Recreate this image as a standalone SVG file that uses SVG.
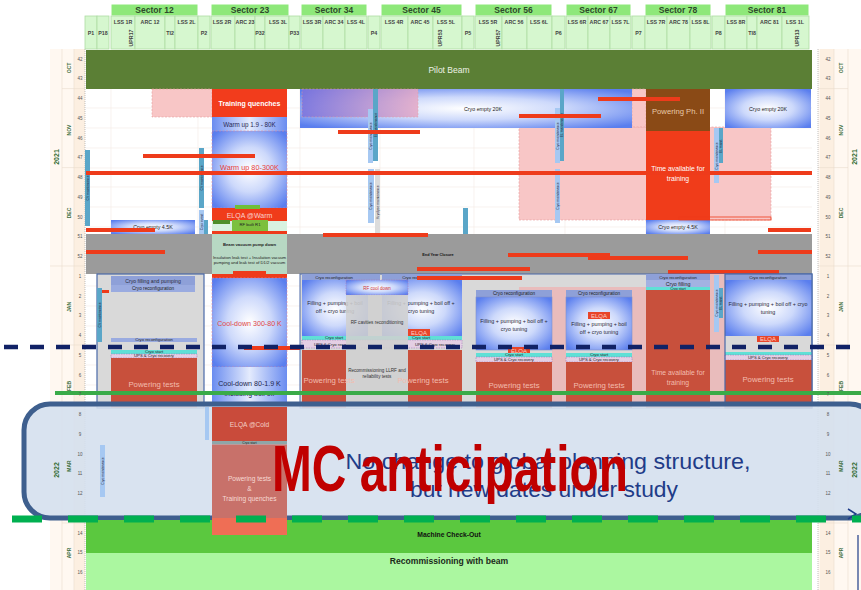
<svg xmlns="http://www.w3.org/2000/svg" width="861" height="590" viewBox="0 0 861 590">
<defs>
<radialGradient id="rb" cx="50%" cy="50%" r="65%">
<stop offset="0" stop-color="#ffffff"/><stop offset="0.45" stop-color="#cdd9fb"/><stop offset="1" stop-color="#5a7eee"/>
</radialGradient>
<linearGradient id="lb" x1="0" y1="0" x2="1" y2="0">
<stop offset="0" stop-color="#6a8cf0"/><stop offset="0.5" stop-color="#e4ebfd"/><stop offset="1" stop-color="#6a8cf0"/>
</linearGradient>
<linearGradient id="pu" x1="0" y1="0" x2="1" y2="0">
<stop offset="0" stop-color="#7e74dc"/><stop offset="1" stop-color="#e4a8c6"/>
</linearGradient>
<style>
text{font-family:"Liberation Sans",Arial,sans-serif}
.hs{fill:#8ee87a;stroke:#fff;stroke-width:1}
.hb{fill:#d6f7cf;stroke:#aedca4;stroke-width:.8}
.ht{font-size:8.5px;font-weight:bold;fill:#2d4a2a;text-anchor:middle}
.hl{font-size:5.3px;font-weight:bold;fill:#444;text-anchor:middle}
.wk{font-size:4.5px;fill:#555;text-anchor:middle}
.mo{font-size:5px;font-weight:bold;fill:#3d6e3d;text-anchor:middle}
.yr{font-size:7px;font-weight:bold;fill:#2f6a2f;text-anchor:middle}
.rl{fill:#ee3b1b}
.vm{fill:#5aa6c8}
.vc{fill:#a6c8f2}
.vt{font-size:3.4px;fill:#223;text-anchor:middle}
.pk{fill:#f8c6c6;stroke:#e59a9a;stroke-width:.6;stroke-dasharray:2 1.5}
.bl{fill:url(#rb)}
.st{font-size:5.3px;fill:#222;text-anchor:middle}
.cr{font-size:4.7px;fill:#222;text-anchor:middle}
.sm{font-size:4.2px;fill:#222;text-anchor:middle}
.pw{fill:#c8503c}
.pt{font-size:7.8px;fill:#f3bcae;text-anchor:middle}
.cy{fill:#5fe0d6}
.ups{fill:#e4cfe4;stroke:#9b6bb0;stroke-width:.5;stroke-dasharray:1.5 1}
.rc{fill:#8ea0d8}
.ft{font-size:5.4px;fill:#2a2a3a;text-anchor:middle}
.el{fill:#e8452a}
.et{font-size:6px;fill:#fbd0c8;text-anchor:middle}
.g{stroke:#f3e9e4;stroke-width:.6}
</style>
</defs>
<rect width="861" height="590" fill="#ffffff"/>

<g id="axes">
<rect x="50" y="49" width="35" height="541" fill="#fff8f1"/>
<rect x="74" y="49" width="11" height="541" fill="#fcefe1"/>
<rect x="818" y="49" width="43" height="541" fill="#fff8f1"/>
<rect x="820" y="49" width="14" height="541" fill="#fcefe1"/>
<g stroke="#eadccc" stroke-width=".6">
<line x1="62" y1="88.6" x2="85" y2="88.6"/><line x1="62" y1="167.6" x2="85" y2="167.6"/><line x1="50" y1="266" x2="85" y2="266"/><line x1="62" y1="345" x2="85" y2="345"/><line x1="62" y1="523" x2="85" y2="523"/>
<line x1="818" y1="88.6" x2="848" y2="88.6"/><line x1="818" y1="167.6" x2="848" y2="167.6"/><line x1="818" y1="266" x2="861" y2="266"/><line x1="818" y1="345" x2="848" y2="345"/><line x1="818" y1="523" x2="848" y2="523"/>
<line x1="62" y1="49" x2="62" y2="590"/><line x1="74" y1="49" x2="74" y2="590"/><line x1="834" y1="49" x2="834" y2="590"/><line x1="848" y1="49" x2="848" y2="590"/>
</g>
<line x1="85" y1="49" x2="85" y2="590" stroke="#999" stroke-width=".6" stroke-dasharray="1 1"/>
<line x1="818" y1="49" x2="818" y2="590" stroke="#999" stroke-width=".6" stroke-dasharray="1 1"/>
</g>

<g id="grid" class="g">
<line x1="86" y1="108" x2="812" y2="108"/><line x1="86" y1="128" x2="812" y2="128"/><line x1="86" y1="148" x2="812" y2="148"/><line x1="86" y1="168" x2="812" y2="168"/><line x1="86" y1="187" x2="812" y2="187"/><line x1="86" y1="207" x2="812" y2="207"/><line x1="86" y1="227" x2="812" y2="227"/>
<line x1="86" y1="286" x2="812" y2="286"/><line x1="86" y1="306" x2="812" y2="306"/><line x1="86" y1="326" x2="812" y2="326"/><line x1="86" y1="345" x2="812" y2="345"/><line x1="86" y1="365" x2="812" y2="365"/><line x1="86" y1="385" x2="812" y2="385"/>
<line x1="111" y1="89" x2="111" y2="234"/><line x1="198" y1="89" x2="198" y2="234"/><line x1="300" y1="89" x2="300" y2="234"/><line x1="380" y1="89" x2="380" y2="234"/><line x1="474" y1="89" x2="474" y2="234"/><line x1="565" y1="89" x2="565" y2="234"/><line x1="646" y1="89" x2="646" y2="234"/><line x1="725" y1="89" x2="725" y2="234"/>
</g>

<g id="header">
<rect class="hs" x="111" y="4" width="87" height="12"/><text class="ht" x="154.5" y="13">Sector 12</text>
<rect class="hs" x="211" y="4" width="78" height="12"/><text class="ht" x="250" y="13">Sector 23</text>
<rect class="hs" x="301" y="4" width="66" height="12"/><text class="ht" x="334" y="13">Sector 34</text>
<rect class="hs" x="381" y="4" width="81" height="12"/><text class="ht" x="421.5" y="13">Sector 45</text>
<rect class="hs" x="475" y="4" width="77" height="12"/><text class="ht" x="513.5" y="13">Sector 56</text>
<rect class="hs" x="566" y="4" width="65" height="12"/><text class="ht" x="598.5" y="13">Sector 67</text>
<rect class="hs" x="645" y="4" width="66" height="12"/><text class="ht" x="678" y="13">Sector 78</text>
<rect class="hs" x="725" y="4" width="84" height="12"/><text class="ht" x="767" y="13">Sector 81</text>
<g>
<rect class="hb" x="85" y="16" width="12" height="33"/><rect class="hb" x="97" y="16" width="12" height="33"/>
<rect class="hb" x="111" y="16" width="24" height="33"/><rect class="hb" x="135" y="16" width="30" height="33"/><rect class="hb" x="165" y="16" width="10" height="33"/><rect class="hb" x="175" y="16" width="23" height="33"/>
<rect class="hb" x="198" y="16" width="12" height="33"/>
<rect class="hb" x="211" y="16" width="24" height="33"/><rect class="hb" x="235" y="16" width="20" height="33"/><rect class="hb" x="255" y="16" width="10" height="33"/><rect class="hb" x="265" y="16" width="24" height="33"/>
<rect class="hb" x="289" y="16" width="11" height="33"/>
<rect class="hb" x="301" y="16" width="22" height="33"/><rect class="hb" x="323" y="16" width="22" height="33"/><rect class="hb" x="345" y="16" width="22" height="33"/>
<rect class="hb" x="368" y="16" width="12" height="33"/>
<rect class="hb" x="381" y="16" width="27" height="33"/><rect class="hb" x="408" y="16" width="25" height="33"/><rect class="hb" x="433" y="16" width="29" height="33"/>
<rect class="hb" x="462" y="16" width="12" height="33"/>
<rect class="hb" x="475" y="16" width="27" height="33"/><rect class="hb" x="502" y="16" width="25" height="33"/><rect class="hb" x="527" y="16" width="25" height="33"/>
<rect class="hb" x="552" y="16" width="13" height="33"/>
<rect class="hb" x="566" y="16" width="22" height="33"/><rect class="hb" x="588" y="16" width="22" height="33"/><rect class="hb" x="610" y="16" width="21" height="33"/>
<rect class="hb" x="632" y="16" width="13" height="33"/>
<rect class="hb" x="645" y="16" width="22" height="33"/><rect class="hb" x="667" y="16" width="23" height="33"/><rect class="hb" x="690" y="16" width="21" height="33"/>
<rect class="hb" x="712" y="16" width="13" height="33"/>
<rect class="hb" x="725" y="16" width="22" height="33"/><rect class="hb" x="747" y="16" width="10" height="33"/><rect class="hb" x="757" y="16" width="25" height="33"/><rect class="hb" x="782" y="16" width="27" height="33"/>
</g>
<g class="hl">
<text x="91" y="35">P1</text><text x="103" y="35">P18</text>
<text x="123" y="24">LSS 1R</text><text x="150" y="24">ARC 12</text><text x="170" y="35">TI2</text><text x="186.5" y="24">LSS 2L</text>
<text x="204" y="35">P2</text>
<text x="222" y="24">LSS 2R</text><text x="245" y="24">ARC 23</text><text x="260" y="35">P32</text><text x="278" y="24">LSS 3L</text>
<text x="294.5" y="35">P33</text>
<text x="312" y="24">LSS 3R</text><text x="334" y="24">ARC 34</text><text x="356" y="24">LSS 4L</text>
<text x="374" y="35">P4</text>
<text x="394" y="24">LSS 4R</text><text x="420" y="24">ARC 45</text><text x="446" y="24">LSS 5L</text>
<text x="468" y="35">P5</text>
<text x="488" y="24">LSS 5R</text><text x="514" y="24">ARC 56</text><text x="539" y="24">LSS 6L</text>
<text x="558.5" y="35">P6</text>
<text x="577" y="24">LSS 6R</text><text x="599" y="24">ARC 67</text><text x="620.5" y="24">LSS 7L</text>
<text x="638.5" y="35">P7</text>
<text x="656" y="24">LSS 7R</text><text x="678.5" y="24">ARC 78</text><text x="700.5" y="24">LSS 8L</text>
<text x="718.5" y="35">P8</text>
<text x="736" y="24">LSS 8R</text><text x="752" y="35">TI8</text><text x="769.5" y="24">ARC 81</text><text x="795" y="24">LSS 1L</text>
<text transform="rotate(-90 131 38)" x="131" y="40">UPR17</text>
<text transform="rotate(-90 440 38)" x="440" y="40">UPR53</text>
<text transform="rotate(-90 498 38)" x="498" y="40">UPR57</text>
<text transform="rotate(-90 797 38)" x="797" y="40">UPR13</text>
</g>
</g>

<g id="pilot-beam">
<rect x="86" y="50" width="726" height="39" fill="#5b7f35"/>
<text x="449" y="73" font-size="8.5" fill="#eef3e6" text-anchor="middle">Pilot Beam</text>
</g>

<g id="upper">
<rect class="pk" x="519" y="127" width="252" height="93"/>
<rect class="pk" x="632" y="89" width="14" height="38"/>
<rect class="pk" x="152" y="89" width="60" height="28"/>
<rect class="bl" x="300" y="89" width="332" height="39"/>
<text class="st" x="483" y="111">Cryo empty 20K</text>
<rect x="302" y="89" width="116" height="28" fill="url(#pu)" opacity=".85" stroke="#e59a9a" stroke-width=".6" stroke-dasharray="2 1.5"/>
<rect class="bl" x="725" y="89" width="86" height="39"/>
<text class="st" x="768" y="111">Cryo empty 20K</text>
<rect x="646" y="89" width="64" height="42" fill="#8a4a16"/>
<text x="678" y="113.5" font-size="7.7" fill="#e9c9a6" text-anchor="middle">Powering Ph. II</text>
<rect x="646" y="131" width="64" height="89" fill="#f03c1a"/>
<text x="678" y="171" font-size="6.8" fill="#fff" text-anchor="middle">Time available for</text>
<text x="678" y="181" font-size="6.8" fill="#fff" text-anchor="middle">training</text>
<rect class="bl" x="646" y="220" width="64" height="14"/>
<text class="st" x="678" y="229">Cryo empty 4.5K</text>
<rect class="bl" x="111" y="220" width="84" height="14"/>
<text class="st" x="153" y="229">Cryo empty 4.5K</text>
<rect x="679" y="217" width="92" height="3" fill="none" stroke="#ee3b1b" stroke-width=".8"/>
</g>

<g id="sector23-upper">
<rect x="212" y="89" width="75" height="28" fill="#f23c1c"/>
<text x="249.5" y="105.5" font-size="7" font-weight="bold" fill="#fff" text-anchor="middle">Training quenches</text>
<rect x="212" y="117" width="75" height="14" fill="url(#lb)"/>
<text x="249.5" y="127" font-size="6.3" fill="#2a2a55" text-anchor="middle">Warm up 1.9 - 80K</text>
<rect x="212" y="131" width="75" height="77" fill="url(#rb)" stroke="#e08a9a" stroke-width=".6" stroke-dasharray="2 1.5"/>
<text x="249.5" y="170" font-size="7.3" fill="#e8423a" text-anchor="middle">Warm up 80-300K</text>
<rect x="212" y="208" width="75" height="13" fill="#f03c1a"/>
<text x="249.5" y="217.5" font-size="7" fill="#fbd0cc" text-anchor="middle">ELQA @Warm</text>
<rect x="235" y="205" width="25" height="4" fill="#6fbf3a"/>
<rect x="212" y="221" width="75" height="13" fill="#d8f2e0"/>
<rect x="213" y="220" width="17" height="4" fill="#4f8f2a"/>
<rect x="232" y="220" width="36" height="13" fill="#7cc03e"/>
<text class="sm" x="250" y="226">RF built R1</text>
<rect x="212" y="231" width="75" height="3" fill="#ee3b1b"/>
</g>

<g id="maintenance-upper">
<rect class="vm" x="85" y="150" width="5" height="76"/><text class="vt" transform="rotate(-90 87.5 188)" x="87.5" y="189.2">CV maintenance</text>
<rect class="vm" x="199" y="148" width="5" height="60"/><text class="vt" transform="rotate(-90 201.5 178)" x="201.5" y="179.2">CV maintenance</text>
<rect class="vc" x="199" y="210" width="5" height="24"/><text class="vt" transform="rotate(-90 201.5 222)" x="201.5" y="223.2">Cryo event</text>
<rect class="vm" x="204" y="220" width="4" height="48"/>
<rect class="vc" x="368" y="109" width="5" height="54"/><text class="vt" transform="rotate(-90 370.5 136)" x="370.5" y="137.2">Cryo maintenance</text>
<rect class="vm" x="373" y="89" width="5" height="72"/><text class="vt" transform="rotate(-90 375.5 125)" x="375.5" y="126.2">EL maintenance</text>
<rect class="vc" x="368" y="169" width="6" height="54"/><text class="vt" transform="rotate(-90 371 196)" x="371" y="197.2">Cryo maintenance</text>
<rect x="375" y="169" width="5" height="66" fill="#dcdcdc"/><text class="vt" transform="rotate(-90 377.5 202)" x="377.5" y="203.2">Kryolyse maintenance</text>
<rect class="vm" x="463" y="208" width="5" height="94"/><text class="vt" transform="rotate(-90 465.5 255)" x="465.5" y="256.2">EL maintenance</text>
<rect class="vc" x="555" y="108" width="5" height="55"/><text class="vt" transform="rotate(-90 557.5 136)" x="557.5" y="137.2">Cryo maintenance</text>
<rect class="vm" x="560" y="89" width="4" height="72"/><text class="vt" transform="rotate(-90 562 125)" x="562" y="126.2">EL maintenance</text>
<rect class="vc" x="555" y="169" width="5" height="54"/><text class="vt" transform="rotate(-90 557.5 196)" x="557.5" y="197.2">Cryo maintenance</text>
<rect class="vc" x="714" y="128" width="5" height="55"/><text class="vt" transform="rotate(-90 716.5 156)" x="716.5" y="157.2">Cryo maintenance</text>
<rect class="vm" x="719" y="128" width="4" height="35"/><text class="vt" transform="rotate(-90 721 146)" x="721" y="147.2">EL maint.</text>
</g>

<g id="red-lines-upper">
<rect class="rl" x="86" y="171" width="726" height="4"/>
<rect class="rl" x="143" y="154" width="112" height="4"/>
<rect class="rl" x="338" y="130" width="82" height="4"/>
<rect class="rl" x="519" y="114" width="82" height="4"/>
<rect class="rl" x="598" y="97" width="82" height="4"/>
<rect class="rl" x="86" y="228" width="69" height="4"/>
<rect class="rl" x="768" y="228" width="43" height="4"/>
</g>

<g id="end-year-closure">
<rect x="86" y="234" width="726" height="40" fill="#9b9b9b"/>
<text x="438" y="255.5" font-size="3.8" font-weight="bold" fill="#111" text-anchor="middle">End Year Closure</text>
<rect x="212" y="234" width="75" height="42" fill="#b7d8c3"/>
<text class="sm" x="249.5" y="246" font-weight="bold">Beam vacuum pump down</text>
<text class="sm" x="249.5" y="259">Insulation leak test + Insulation vacuum</text>
<text class="sm" x="249.5" y="264">pumping and leak test of D1/2 vacuum</text>
<rect x="233" y="271" width="33" height="4" fill="#ee3b1b"/>
<rect class="rl" x="323" y="233" width="105" height="4"/>
<rect class="rl" x="86" y="250" width="79" height="4"/>
<rect class="rl" x="508" y="253" width="102" height="4"/>
<rect class="rl" x="588" y="256" width="100" height="4"/>
<rect class="rl" x="417" y="267" width="113" height="4"/>
<rect class="rl" x="758" y="250" width="54" height="4"/>
<rect class="rl" x="668" y="270" width="111" height="4"/>
</g>

<g id="sector12-lower">
<rect x="97" y="274" width="107" height="134" fill="#d9d9d9" stroke="#4a69a8" stroke-width="1.2"/>
<rect class="rc" x="111" y="276" width="84" height="9"/>
<text x="153" y="282.5" font-size="5.2" fill="#2a2a3a" text-anchor="middle">Cryo filling and pumping</text>
<rect x="111" y="285" width="84" height="7" fill="#9aabe0"/>
<text class="cr" x="153" y="290.3">Cryo reconfiguration</text>
<rect class="rl" x="101" y="290" width="8" height="3"/>
<rect class="vm" x="97" y="288" width="5" height="54"/><text class="vt" transform="rotate(-90 99.5 315)" x="99.5" y="316.2">CV maintenance</text>
<rect x="111" y="338" width="86" height="4" fill="#9aabe0"/>
<text class="sm" x="154" y="341.2">Cryo reconfiguration</text>
<rect class="cy" x="111" y="350" width="86" height="4"/>
<text class="sm" x="154" y="353.3">Cryo start</text>
<rect class="ups" x="111" y="354" width="86" height="4"/>
<text class="sm" x="154" y="357.3">UPS &amp; Cryo recovery</text>
<rect class="pw" x="111" y="358" width="86" height="50"/>
<text class="pt" x="154" y="387">Powering tests</text>
</g>

<g id="lower-area">
<rect x="300" y="274" width="512" height="134" fill="#d9d9d9" stroke="#4a69a8" stroke-width="1"/>
<rect x="519" y="287" width="127" height="121" fill="#e9bcbc"/>
<rect x="710" y="274" width="15" height="134" fill="#e9bcbc"/>
</g>

<g id="sector34-45-lower">
<rect class="rc" x="302" y="274" width="78" height="6"/>
<text class="sm" x="334" y="278.5">Cryo reconfiguration</text>
<rect class="rc" x="382" y="274" width="80" height="6"/>
<text class="sm" x="421" y="278.5">Cryo reconfiguration</text>
<rect class="rl" x="417" y="276" width="105" height="4"/>
<rect class="bl" x="302" y="280" width="66" height="58"/>
<text class="ft" x="335" y="305">Filling + pumping + boil</text>
<text class="ft" x="335" y="312.5">off + cryo tuning</text>
<rect class="bl" x="382" y="280" width="80" height="58"/>
<text class="ft" x="421" y="305">Filling + pumping + boil off +</text>
<text class="ft" x="421" y="312.5">cryo tuning</text>
<rect class="bl" x="346" y="280" width="62" height="15" stroke="#b07ab0" stroke-width=".5" stroke-dasharray="1.5 1"/>
<text x="377" y="289.5" font-size="4.5" fill="#d03030" text-anchor="middle">RF cool down</text>
<rect class="cy" x="302" y="336" width="160" height="4"/>
<text class="sm" x="334" y="339.3">Cryo start</text>
<text class="sm" x="421" y="339.3">Cryo start</text>
<rect class="ups" x="302" y="340" width="160" height="8"/>
<text class="sm" x="334" y="345.5">UPS &amp; Cryo recovery</text>
<text class="sm" x="435" y="345.5">UPS &amp; Cryo recovery</text>
<rect class="pw" x="302" y="350" width="44" height="58"/>
<rect class="pw" x="408" y="350" width="54" height="58"/>
<rect x="346" y="295" width="62" height="113" fill="#cfcfcf" opacity=".88"/>
<text x="377" y="324" font-size="4.6" fill="#333" text-anchor="middle">RF cavities reconditioning</text>
<text x="377" y="372" font-size="4.6" fill="#333" text-anchor="middle">Recommissioning LLRF and</text>
<text x="377" y="378" font-size="4.6" fill="#333" text-anchor="middle">reliability tests</text>
<rect class="el" x="408" y="329" width="22" height="7"/>
<text class="et" x="419" y="334.5">ELQA</text>
<text class="pt" x="329" y="383">Powering tests</text>
<text class="pt" x="423" y="383">Powering tests</text>
</g>

<g id="sector56-lower">
<rect x="476" y="290" width="76" height="118" fill="#d9d9d9"/>
<rect class="rc" x="476" y="290" width="76" height="7"/>
<text class="cr" x="514" y="295.3">Cryo reconfiguration</text>
<rect class="bl" x="476" y="297" width="76" height="53" stroke="#8090c8" stroke-width=".6"/>
<text class="ft" x="514" y="323">Filling + pumping + boil off +</text>
<text class="ft" x="514" y="330.5">cryo tuning</text>
<rect class="el" x="508" y="347" width="22" height="7"/>
<text class="et" x="519" y="352.5">ELQA</text>
<rect class="cy" x="476" y="353" width="76" height="4"/>
<text class="sm" x="514" y="356.3">Cryo start</text>
<rect class="ups" x="476" y="357" width="76" height="5"/>
<text class="sm" x="514" y="361">UPS &amp; Cryo recovery</text>
<rect class="pw" x="476" y="362" width="76" height="46"/>
<text class="pt" x="514" y="388">Powering tests</text>
</g>

<g id="sector67-lower">
<rect x="566" y="290" width="66" height="118" fill="#d9d9d9"/>
<rect class="rc" x="566" y="290" width="66" height="7"/>
<text class="cr" x="599" y="295.3">Cryo reconfiguration</text>
<rect class="bl" x="566" y="297" width="66" height="53" stroke="#8090c8" stroke-width=".6"/>
<rect class="el" x="588" y="312" width="22" height="7"/>
<text class="et" x="599" y="317.5">ELQA</text>
<text class="ft" x="599" y="326">Filling + pumping + boil</text>
<text class="ft" x="599" y="333.5">off + cryo tuning</text>
<rect class="cy" x="566" y="353" width="66" height="4"/>
<text class="sm" x="599" y="356.3">Cryo start</text>
<rect class="ups" x="566" y="357" width="66" height="5"/>
<text class="sm" x="599" y="361">UPS &amp; Cryo recovery</text>
<rect class="pw" x="566" y="362" width="66" height="46"/>
<text class="pt" x="599" y="388">Powering tests</text>
</g>

<g id="sector78-lower">
<rect class="rc" x="646" y="274" width="64" height="6"/>
<text class="sm" x="678" y="278.5">Cryo reconfiguration</text>
<rect x="646" y="280" width="64" height="7" fill="#a2b2e2"/>
<text class="st" x="678" y="285.5">Cryo filling</text>
<rect class="cy" x="646" y="287" width="64" height="3"/>
<text x="678" y="289.6" font-size="3.6" fill="#222" text-anchor="middle">Cryo start</text>
<rect class="pw" x="646" y="290" width="64" height="118"/>
<text x="678" y="375" font-size="6.8" fill="#f3bcae" text-anchor="middle">Time available for</text>
<text x="678" y="385" font-size="6.8" fill="#f3bcae" text-anchor="middle">training</text>
<rect class="vc" x="714" y="275" width="5" height="57"/><text class="vt" transform="rotate(-90 716.5 303)" x="716.5" y="304.2">Cryo maintenance</text>
<rect class="vm" x="719" y="288" width="4" height="30"/><text class="vt" transform="rotate(-90 721 303)" x="721" y="304.2">EL maint.</text>
</g>

<g id="sector81-lower">
<rect class="rc" x="725" y="274" width="87" height="6"/>
<text class="sm" x="768" y="278.5">Cryo reconfiguration</text>
<rect class="bl" x="725" y="280" width="87" height="56"/>
<text class="ft" x="768" y="306">Filling + pumping + boil off + cryo</text>
<text class="ft" x="768" y="313.5">tuning</text>
<rect class="el" x="757" y="336" width="22" height="6"/>
<text class="et" x="768" y="341">ELQA</text>
<rect class="cy" x="725" y="352" width="87" height="3"/>
<rect class="ups" x="725" y="355" width="87" height="5"/>
<text class="sm" x="768" y="359">UPS &amp; Cryo recovery</text>
<rect class="pw" x="725" y="360" width="87" height="48"/>
<text class="pt" x="768" y="382">Powering tests</text>
<rect x="725" y="274" width="87" height="134" fill="none" stroke="#4a69a8" stroke-width="1.2"/>
</g>

<g id="sector23-lower">
<rect x="212" y="274" width="75" height="4" fill="#ee3b1b"/>
<rect x="212" y="278" width="75" height="89" fill="url(#rb)" stroke="#e08a9a" stroke-width=".6" stroke-dasharray="2 1.5"/>
<text x="249.5" y="326" font-size="7.1" fill="#e04848" text-anchor="middle">Cool-down 300-80 K</text>
<rect x="212" y="367" width="75" height="40" fill="url(#lb)"/>
<text x="249.5" y="386" font-size="7.1" fill="#23264e" text-anchor="middle">Cool-down 80-1.9 K</text>
<text x="249.5" y="396" font-size="7" fill="#23264e" text-anchor="middle">including boil off</text>
<rect class="rl" x="244" y="346" width="56" height="4"/>
</g>

<g id="milestone-lines">
<line x1="4" y1="347" x2="861" y2="347" stroke="#112266" stroke-width="4.5" stroke-dasharray="14 12"/>
<line x1="55" y1="393" x2="861" y2="393" stroke="#3aab48" stroke-width="4"/>
</g>

<g id="mc-box">
<rect x="24" y="404" width="852" height="114" rx="26" fill="#d5e0ee" fill-opacity=".9" stroke="#3e5f8e" stroke-width="5"/>
<rect class="vc" x="100" y="445" width="5" height="52"/><text class="vt" transform="rotate(-90 102.5 471)" x="102.5" y="472.2">Cryo maintenance</text>
<rect class="vc" x="205" y="407" width="4" height="33"/>
<path d="M848 509 L856 514 L848 519" fill="none" stroke="#1f3c88" stroke-width="1.5"/>
</g>

<g id="axis-labels">
<g class="wk">
<text x="80" y="60.5">42</text><text x="80" y="80.3">43</text><text x="80" y="100">44</text><text x="80" y="119.8">45</text><text x="80" y="139.5">46</text><text x="80" y="159.3">47</text><text x="80" y="179">48</text><text x="80" y="198.8">49</text><text x="80" y="218.5">50</text><text x="80" y="238.3">51</text><text x="80" y="258">52</text><text x="80" y="277.8">1</text><text x="80" y="297.5">2</text><text x="80" y="317.3">3</text><text x="80" y="337">4</text><text x="80" y="356.8">5</text><text x="80" y="376.5">6</text><text x="80" y="396.3">7</text><text x="80" y="416">8</text><text x="80" y="435.8">9</text><text x="80" y="455.5">10</text><text x="80" y="475.3">11</text><text x="80" y="495">12</text><text x="80" y="534.5">14</text><text x="80" y="554.3">15</text><text x="80" y="574">16</text>
<text x="828" y="60.5">42</text><text x="828" y="80.3">43</text><text x="828" y="100">44</text><text x="828" y="119.8">45</text><text x="828" y="139.5">46</text><text x="828" y="159.3">47</text><text x="828" y="179">48</text><text x="828" y="198.8">49</text><text x="828" y="218.5">50</text><text x="828" y="238.3">51</text><text x="828" y="258">52</text><text x="828" y="277.8">1</text><text x="828" y="297.5">2</text><text x="828" y="317.3">3</text><text x="828" y="337">4</text><text x="828" y="356.8">5</text><text x="828" y="376.5">6</text><text x="828" y="396.3">7</text><text x="828" y="416">8</text><text x="828" y="435.8">9</text><text x="828" y="455.5">10</text><text x="828" y="475.3">11</text><text x="828" y="495">12</text><text x="828" y="534.5">14</text><text x="828" y="554.3">15</text><text x="828" y="574">16</text>
</g>
<g class="mo">
<text transform="rotate(-90 69 68)" x="69" y="70">OCT</text><text transform="rotate(-90 69 130)" x="69" y="132">NOV</text><text transform="rotate(-90 69 213)" x="69" y="215">DEC</text><text transform="rotate(-90 69 307)" x="69" y="309">JAN</text><text transform="rotate(-90 69 386)" x="69" y="388">FEB</text><text transform="rotate(-90 69 466)" x="69" y="468">MAR</text><text transform="rotate(-90 69 553)" x="69" y="555">APR</text>
<text transform="rotate(-90 841 68)" x="841" y="70">OCT</text><text transform="rotate(-90 841 130)" x="841" y="132">NOV</text><text transform="rotate(-90 841 213)" x="841" y="215">DEC</text><text transform="rotate(-90 841 307)" x="841" y="309">JAN</text><text transform="rotate(-90 841 386)" x="841" y="388">FEB</text><text transform="rotate(-90 841 466)" x="841" y="468">MAR</text><text transform="rotate(-90 841 553)" x="841" y="555">APR</text>
</g>
<g class="yr">
<text transform="rotate(-90 56 157)" x="56" y="159.5">2021</text><text transform="rotate(-90 56 470)" x="56" y="472.5">2022</text>
<text transform="rotate(-90 854 157)" x="854" y="159.5">2021</text><text transform="rotate(-90 854 470)" x="854" y="472.5">2022</text>
</g>
</g>

<g id="sector23-cold">
<rect x="212" y="407" width="75" height="34" fill="#c94b3b"/>
<text x="249.5" y="427" font-size="6.6" fill="#f4cfc6" text-anchor="middle">ELQA @Cold</text>
<rect x="212" y="441" width="75" height="3.5" fill="#8fa6a8"/>
<text x="249.5" y="444" font-size="3.3" fill="#222" text-anchor="middle">Cryo start</text>
<rect x="212" y="444.5" width="75" height="73.5" fill="#c8716a"/>
<text x="249.5" y="481" font-size="6.6" fill="#f7dad4" text-anchor="middle">Powering tests</text>
<text x="249.5" y="491" font-size="6.6" fill="#f7dad4" text-anchor="middle">&amp;</text>
<text x="249.5" y="501" font-size="6.6" fill="#f7dad4" text-anchor="middle">Training quenches</text>
</g>

<g id="bottom-phases">
<rect x="86" y="520" width="726" height="33" fill="#5bc83f"/>
<text x="449" y="536.5" font-size="6.8" font-weight="bold" fill="#111" text-anchor="middle">Machine Check-Out</text>
<rect x="86" y="553" width="726" height="37" fill="#abf7a0"/>
<text x="449" y="564" font-size="8.6" font-weight="bold" fill="#1a2a1a" text-anchor="middle">Recommissioning with beam</text>
<rect x="212" y="518" width="75" height="17" fill="#ef6e55"/>
<line x1="858" y1="535" x2="858" y2="590" stroke="#1f3c88" stroke-width="1.2"/>
</g>

<g id="green-dashed">
<line x1="12" y1="519" x2="861" y2="519" stroke="#00b050" stroke-width="7" stroke-dasharray="30 26"/>
</g>

<g id="mc-text">
<text x="548" y="469" font-family="'Open Sans','Liberation Sans',sans-serif" font-size="22" fill="#1f3c88" text-anchor="middle" textLength="405" lengthAdjust="spacingAndGlyphs">No change to global planning structure,</text>
<text x="544" y="497" font-family="'Open Sans','Liberation Sans',sans-serif" font-size="22" fill="#1f3c88" text-anchor="middle" textLength="268" lengthAdjust="spacingAndGlyphs">but new dates under study</text>
<text x="450" y="491" font-size="64" font-weight="bold" fill="#c00000" text-anchor="middle" textLength="356" lengthAdjust="spacingAndGlyphs">MC anticipation</text>
</g>
</svg>
